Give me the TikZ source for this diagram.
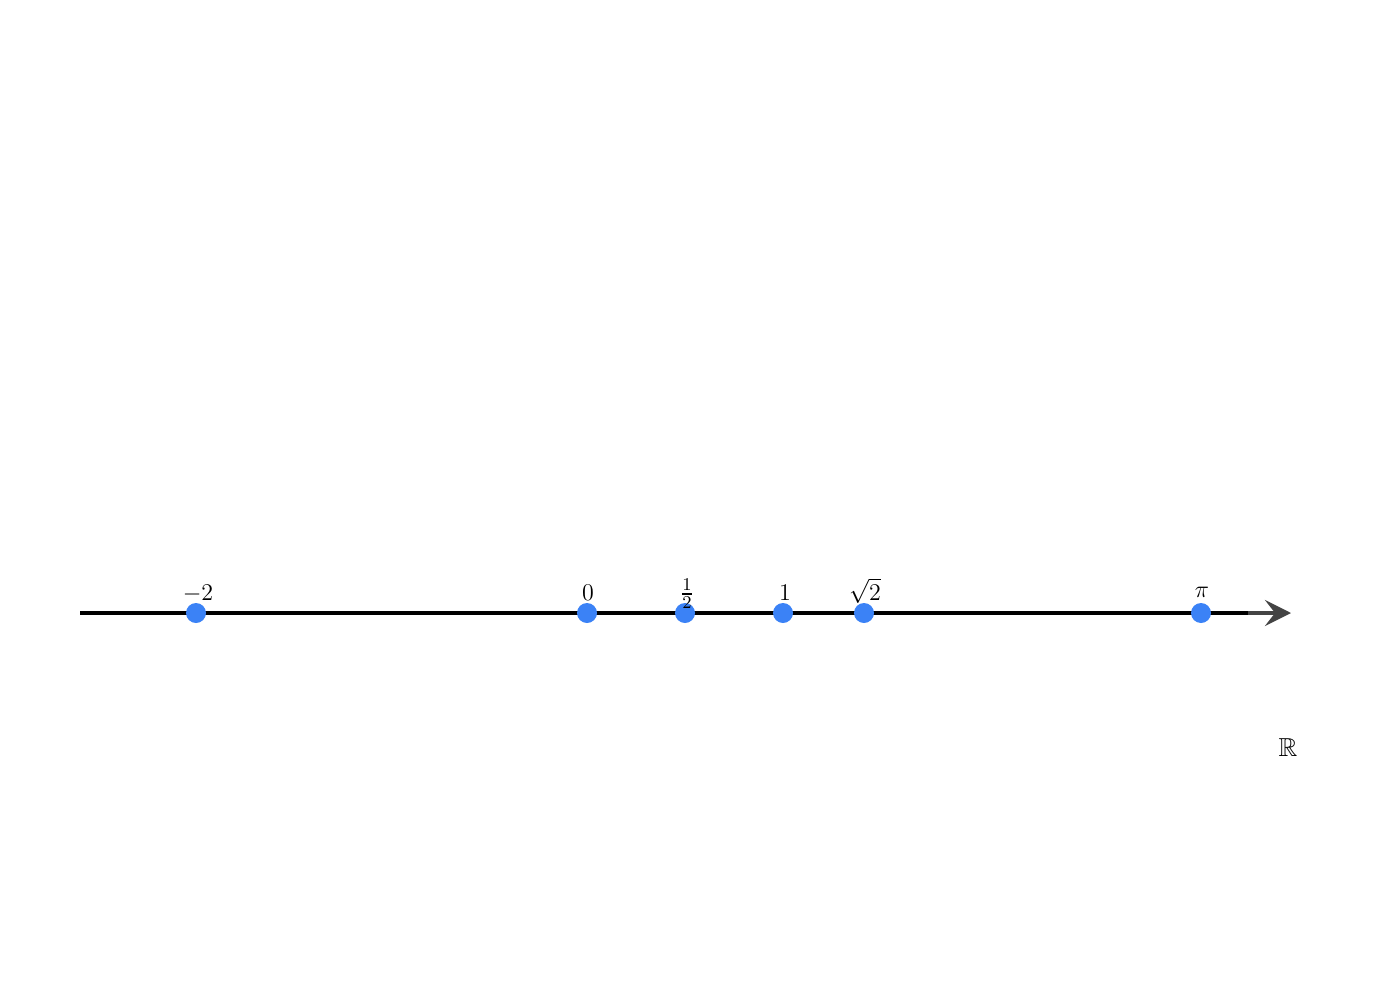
\documentclass[tikz,border=0pt]{standalone}
\usepackage{amssymb}
\usetikzlibrary{arrows.meta}
\definecolor{dotblue}{HTML}{3B82F6}
\definecolor{arrowgray}{HTML}{444444}
\begin{document}
\begin{tikzpicture}[x=0.5pt,y=-0.5pt,
  dot/.style={circle,fill=dotblue,inner sep=0pt,minimum size=10pt},
  lab/.style={anchor=base,inner sep=0pt,font=\fontsize{13}{15}\selectfont},
  axisline/.style={line width=2pt,black}]
\useasboundingbox (0,0) rectangle (1400,1000);
\coordinate (start) at (80,613);
\coordinate (greystart) at (1248,613);
\coordinate (tip) at (1291,613);
\draw[axisline] (start) -- (greystart);
\draw[line width=2pt,arrowgray,-{Stealth[length=13pt,width=13pt,inset=5pt]}] (greystart) -- (tip);
\node[dot] (m2) at (196,613) {};
\node[dot] (z) at (587,613) {};
\node[dot] (h) at (685,613) {};
\node[dot] (o) at (783,613) {};
\node[dot] (s) at (864,613) {};
\node[dot] (p) at (1201,613) {};
\node[lab] (lm2) at (198,600) {$-2$};
\node[lab] (lz) at (588,600) {$0$};
\node[lab] (lh) at (687,600) {$\frac{1}{2}$};
\node[lab] (lo) at (785,600) {$1$};
\node[lab] (ls) at (865,600) {$\sqrt{2}$};
\node[lab] (lp) at (1202,597) {$\pi$};
\node[font=\fontsize{13}{15}\selectfont] (R) at (1288,748) {$\mathbb{R}$};
\end{tikzpicture}
\end{document}
